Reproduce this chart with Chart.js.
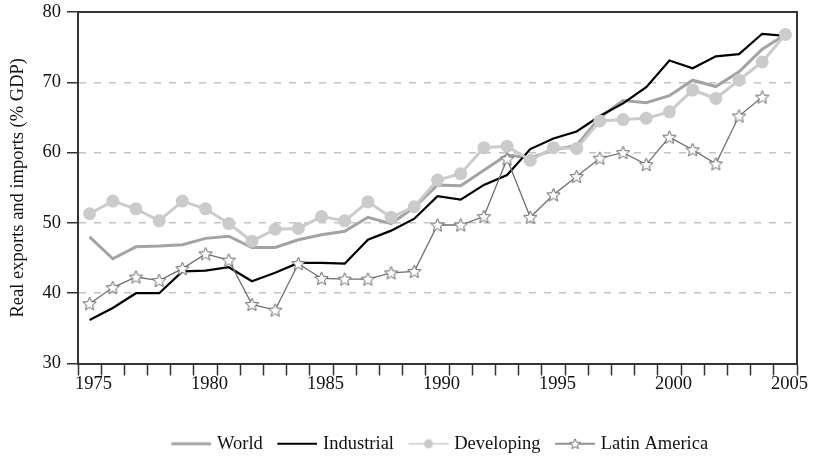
<!DOCTYPE html>
<html>
<head>
<meta charset="utf-8">
<script src="https://cdn.jsdelivr.net/npm/chart.js@4.4.0/dist/chart.umd.min.js"></script>
<style>
  html, body { margin: 0; padding: 0; background: #fff; }
</style>
</head>
<body>
<canvas id="chart" width="817" height="469"></canvas>
<script>
// Datos (% del PIB)
const years = [1975, 1976, 1977, 1978, 1979, 1980, 1981, 1982, 1983, 1984,
               1985, 1986, 1987, 1988, 1989, 1990, 1991, 1992, 1993, 1994,
               1995, 1996, 1997, 1998, 1999, 2000, 2001, 2002, 2003, 2004, 2005];

const world = [48.0, 44.9, 46.6, 46.7, 46.9, 47.8, 48.1, 46.5, 46.5, 47.6,
               48.3, 48.8, 50.8, 49.9, 52.2, 55.4, 55.3, 57.5, 59.7, 59.2,
               60.4, 61.0, 65.0, 67.4, 67.1, 68.1, 70.3, 69.4, 71.5, 74.7, 76.8];

const industrial = [36.2, 37.9, 40.0, 40.0, 43.1, 43.2, 43.7, 41.7, 42.9, 44.3,
                    44.3, 44.2, 47.6, 48.9, 50.6, 53.8, 53.3, 55.4, 56.8, 60.5,
                    62.0, 63.0, 65.2, 67.0, 69.3, 73.1, 72.0, 73.7, 74.0, 76.9, 76.6];

const developing = [51.3, 53.1, 52.0, 50.3, 53.1, 52.0, 49.9, 47.4, 49.1, 49.2,
                    50.9, 50.3, 53.0, 50.8, 52.3, 56.1, 57.0, 60.7, 60.9, 58.9,
                    60.7, 60.6, 64.5, 64.7, 64.9, 65.8, 68.9, 67.7, 70.3, 72.9, 76.8];

const latinAmerica = [38.5, 40.8, 42.3, 41.8, 43.5, 45.6, 44.7, 38.4, 37.6, 44.2,
                      42.1, 42.0, 42.0, 42.9, 43.1, 49.7, 49.7, 50.9, 59.1, 50.8,
                      54.0, 56.6, 59.2, 60.0, 58.3, 62.2, 60.4, 58.4, 65.2, 67.9, null];

const yTicks = [30, 40, 50, 60, 70, 80];

const SERIF = "'Liberation Serif', 'Times New Roman', serif";
const FONT_SIZE = 18.5;
const INK = '#111';
const AXIS = '#333';

// estrella de cinco puntas (contorno)
function drawStar(g, cx, cy, r, fill, stroke) {
    g.beginPath();
    for (let i = 0; i < 10; i++) {
        const rad = i % 2 === 0 ? r : r * 0.45;
        const a = -Math.PI / 2 + i * Math.PI / 5;
        const x = cx + rad * Math.cos(a);
        const y = cy + rad * Math.sin(a);
        if (i === 0) g.moveTo(x, y); else g.lineTo(x, y);
    }
    g.closePath();
    g.fillStyle = fill;
    g.fill();
    g.lineWidth = 1;
    g.strokeStyle = stroke;
    g.stroke();
}

function makeStar(r, fill, stroke) {
    const size = Math.ceil(r * 2 + 3);
    const c = document.createElement('canvas');
    c.width = size;
    c.height = size;
    drawStar(c.getContext('2d'), size / 2, size / 2 + 0.5, r, fill, stroke);
    return c;
}

// icono de leyenda: pequeño margen izquierdo + línea de 40px con marcador
function makeLegendIcon(color, lw, marker) {
    const c = document.createElement('canvas');
    c.width = 48;
    c.height = 16;
    const g = c.getContext('2d');
    g.strokeStyle = color;
    g.lineWidth = lw;
    g.beginPath();
    g.moveTo(8, 8);
    g.lineTo(48, 8);
    g.stroke();
    if (marker === 'circle') {
        g.fillStyle = color;
        g.beginPath();
        g.arc(28, 8, 4.5, 0, Math.PI * 2);
        g.fill();
    }
    if (marker === 'star') drawStar(g, 28, 8.5, 5.5, '#fff', color);
    return c;
}

const starImg = makeStar(7, '#fff', '#666');
const legendIcons = [
    makeLegendIcon('#a3a3a3', 3, null),
    makeLegendIcon('#000', 2, null),
    makeLegendIcon('#cbcbcb', 1.5, 'circle'),
    makeLegendIcon('#6e6e6e', 1.3, 'star')
];

// marco superior y derecho del área del gráfico
const framePlugin = {
    id: 'frame',
    beforeDatasetsDraw(chart) {
        const { ctx, chartArea: a } = chart;
        ctx.save();
        ctx.strokeStyle = AXIS;
        ctx.lineWidth = 2;
        ctx.beginPath();
        ctx.moveTo(a.left, a.top);
        ctx.lineTo(a.right, a.top);
        ctx.lineTo(a.right, a.bottom);
        ctx.stroke();
        ctx.restore();
    }
};

// centrar la leyenda bajo el área del gráfico
const centerLegendPlugin = {
    id: 'centerLegend',
    afterLayout(chart) {
        const lg = chart.legend;
        const a = chart.chartArea;
        if (!lg) return;
        const shift = (a.left + a.right) / 2 - (lg.left + lg.right) / 2;
        lg.left += shift;
        lg.right += shift;
    }
};

const ctx = document.getElementById('chart');

new Chart(ctx, {
    type: 'line',
    data: {
        labels: years,
        datasets: [
            { label: 'World', data: world, borderColor: '#a3a3a3', borderWidth: 3,
              pointRadius: 0, tension: 0, order: 3 },
            { label: 'Industrial', data: industrial, borderColor: '#000', borderWidth: 2.2,
              pointRadius: 0, tension: 0, order: 2 },
            { label: 'Developing', data: developing, borderColor: '#cbcbcb', backgroundColor: '#cbcbcb',
              borderWidth: 3, pointRadius: 6.5, pointBorderWidth: 0, pointBackgroundColor: '#cbcbcb',
              tension: 0, order: 1 },
            { label: 'Latin America', data: latinAmerica, borderColor: '#6e6e6e', borderWidth: 1.3,
              pointStyle: starImg, pointRadius: 7, tension: 0, order: 0 }
        ]
    },
    options: {
        responsive: false,
        animation: false,
        events: [],
        font: { family: SERIF },
        layout: { padding: { top: 12, right: 20, left: 0, bottom: 6 } },
        plugins: {
            tooltip: { enabled: false },
            legend: {
                position: 'bottom',
                labels: {
                    usePointStyle: true,
                    pointStyleWidth: 41,
                    padding: 10,
                    color: INK,
                    font: { family: SERIF, size: FONT_SIZE },
                    sort: (a, b) => a.datasetIndex - b.datasetIndex,
                    generateLabels: chart => Chart.defaults.plugins.legend.labels.generateLabels(chart)
                        .map(item => Object.assign(item, { pointStyle: legendIcons[item.datasetIndex] }))
                }
            }
        },
        scales: {
            x: {
                offset: true,
                grid: { offset: true, drawOnChartArea: false, color: AXIS, tickColor: AXIS,
                        tickLength: 12, tickWidth: 1.5 },
                border: { color: AXIS, width: 2 },
                ticks: {
                    autoSkip: false, maxRotation: 0, padding: -1, labelOffset: 4,
                    color: INK, font: { family: SERIF, size: FONT_SIZE, lineHeight: 1 },
                    callback: function (v) {
                        const y = this.getLabelForValue(v);
                        return y % 5 === 0 ? y : '';
                    }
                },
                afterFit: s => { s.height = 61; }
            },
            y: {
                min: yTicks[0],
                max: yTicks[yTicks.length - 1],
                afterBuildTicks: s => { s.ticks = yTicks.map(v => ({ value: v })); },
                ticks: { padding: 6, color: INK, font: { family: SERIF, size: FONT_SIZE, lineHeight: 0.6 } },
                grid: {
                    color: c => (c.tick && (c.tick.value === 30 || c.tick.value === 80)) ? 'rgba(0,0,0,0)' : '#c4c4c4',
                    lineWidth: 1.5,
                    tickColor: AXIS, tickLength: 11, tickWidth: 1.5, tickBorderDash: []
                },
                border: { color: AXIS, width: 2, dash: [7, 8] },
                title: {
                    display: true,
                    text: 'Real exports and imports (% GDP)',
                    color: INK,
                    font: { family: SERIF, size: FONT_SIZE },
                    padding: { top: 7, bottom: 0 }
                },
                afterFit: s => { s.width = 78; }
            }
        }
    },
    plugins: [framePlugin, centerLegendPlugin]
});
</script>
</body>
</html>
